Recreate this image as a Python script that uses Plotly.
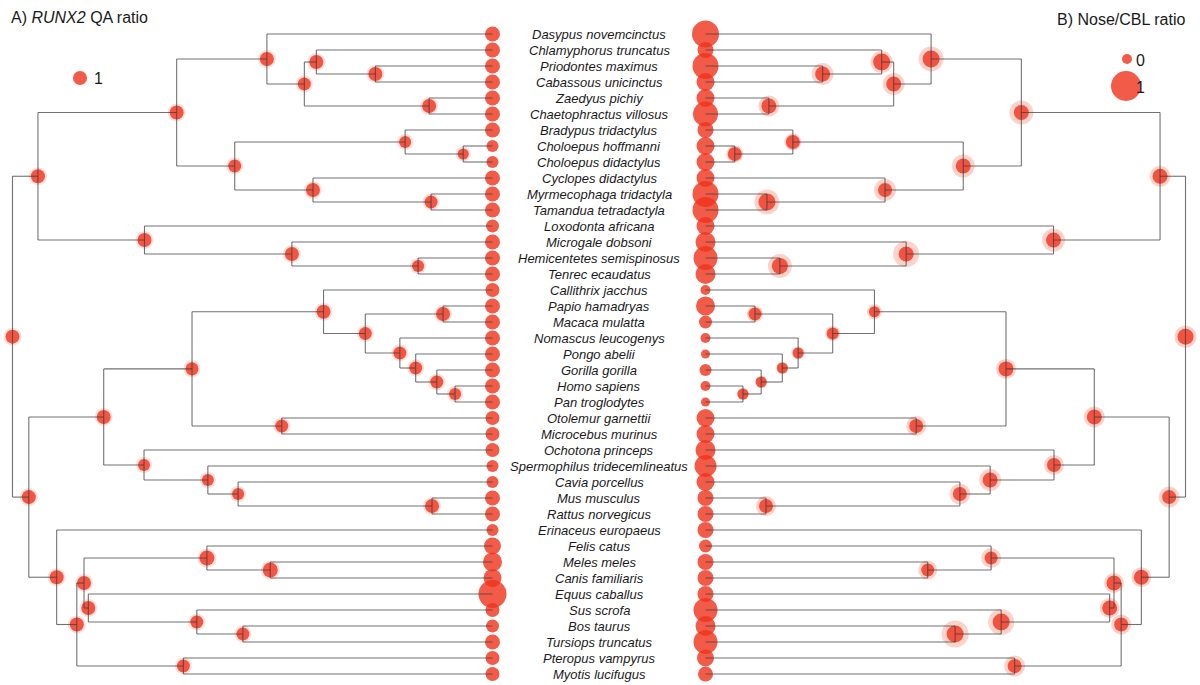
import plotly.graph_objects as go

# ---------------- data ----------------
tips = [
    "Dasypus novemcinctus", "Chlamyphorus truncatus", "Priodontes maximus",
    "Cabassous unicinctus", "Zaedyus pichiy", "Chaetophractus villosus",
    "Bradypus tridactylus", "Choloepus hoffmanni", "Choloepus didactylus",
    "Cyclopes didactylus", "Myrmecophaga tridactyla", "Tamandua tetradactyla",
    "Loxodonta africana", "Microgale dobsoni", "Hemicentetes semispinosus",
    "Tenrec ecaudatus", "Callithrix jacchus", "Papio hamadryas", "Macaca mulatta",
    "Nomascus leucogenys", "Pongo abelii", "Gorilla gorilla", "Homo sapiens",
    "Pan troglodytes", "Otolemur garnettii", "Microcebus murinus",
    "Ochotona princeps", "Spermophilus tridecemlineatus", "Cavia porcellus",
    "Mus musculus", "Rattus norvegicus", "Erinaceus europaeus", "Felis catus",
    "Meles meles", "Canis familiaris", "Equus caballus", "Sus scrofa",
    "Bos taurus", "Tursiops truncatus", "Pteropus vampyrus", "Myotis lucifugus",
]

# A) RUNX2 QA ratio at tips
tip_runx2 = [1.07, 1.07, 1.07, 1.07, 1.07, 1.07, 1.07, 0.86, 0.86, 1.07,
             1.07, 1.07, 0.93, 1.07, 1.07, 1.07, 1.00, 1.07, 1.07, 1.07,
             1.07, 1.07, 1.07, 1.07, 1.00, 1.00, 1.00, 0.86, 0.86, 1.07,
             1.07, 0.86, 1.21, 1.36, 1.29, 2.00, 1.00, 0.93, 1.07, 1.00, 1.00]

# B) Nose/CBL ratio at tips (scaled 0-1)
tip_nose = [0.85, 0.30, 0.80, 0.40, 0.40, 0.75, 0.30, 0.40, 0.40, 0.40,
            0.80, 0.80, 0.40, 0.50, 0.70, 0.50, 0.00, 0.45, 0.15, 0.00,
            -0.05, 0.10, 0.00, -0.05, 0.40, 0.40, 0.50, 0.60, 0.40, 0.30,
            0.30, 0.30, 0.15, 0.30, 0.30, 0.30, 0.70, 0.50, 0.70, 0.35, 0.25]

node_names = [
    "Root", "Atlantogenata", "Xenarthra", "Cingulata", "Chlamyphoridae",
    "Chlamyphorinae+Tolypeutinae", "Tolypeutinae", "Euphractinae", "Pilosa",
    "Folivora", "Choloepus", "Vermilingua", "Myrmecophagidae", "Afrotheria",
    "Tenrecidae", "Tenrecinae", "Boreoeutheria", "Euarchontoglires", "Primates",
    "Anthropoidea", "Catarrhini", "Cercopithecidae", "Hominoidea", "Hominidae",
    "Homininae", "Hominini", "Strepsirrhini", "Glires", "Rodentia",
    "Cavia+Muridae", "Muridae", "Laurasiatheria", "Scrotifera", "Fereuungulata",
    "Carnivora", "Caniformia", "Euungulata", "Cetartiodactyla", "Cetruminantia",
    "Chiroptera",
]
node_children = [
    ("Atlantogenata", "Boreoeutheria"),
    ("Xenarthra", "Afrotheria"),
    ("Cingulata", "Pilosa"),
    ("Dasypus novemcinctus", "Chlamyphoridae"),
    ("Chlamyphorinae+Tolypeutinae", "Euphractinae"),
    ("Chlamyphorus truncatus", "Tolypeutinae"),
    ("Priodontes maximus", "Cabassous unicinctus"),
    ("Zaedyus pichiy", "Chaetophractus villosus"),
    ("Folivora", "Vermilingua"),
    ("Bradypus tridactylus", "Choloepus"),
    ("Choloepus hoffmanni", "Choloepus didactylus"),
    ("Cyclopes didactylus", "Myrmecophagidae"),
    ("Myrmecophaga tridactyla", "Tamandua tetradactyla"),
    ("Loxodonta africana", "Tenrecidae"),
    ("Microgale dobsoni", "Tenrecinae"),
    ("Hemicentetes semispinosus", "Tenrec ecaudatus"),
    ("Euarchontoglires", "Laurasiatheria"),
    ("Primates", "Glires"),
    ("Anthropoidea", "Strepsirrhini"),
    ("Callithrix jacchus", "Catarrhini"),
    ("Cercopithecidae", "Hominoidea"),
    ("Papio hamadryas", "Macaca mulatta"),
    ("Nomascus leucogenys", "Hominidae"),
    ("Pongo abelii", "Homininae"),
    ("Gorilla gorilla", "Hominini"),
    ("Homo sapiens", "Pan troglodytes"),
    ("Otolemur garnettii", "Microcebus murinus"),
    ("Ochotona princeps", "Rodentia"),
    ("Spermophilus tridecemlineatus", "Cavia+Muridae"),
    ("Cavia porcellus", "Muridae"),
    ("Mus musculus", "Rattus norvegicus"),
    ("Erinaceus europaeus", "Scrotifera"),
    ("Fereuungulata", "Chiroptera"),
    ("Carnivora", "Euungulata"),
    ("Felis catus", "Caniformia"),
    ("Meles meles", "Canis familiaris"),
    ("Equus caballus", "Cetartiodactyla"),
    ("Sus scrofa", "Cetruminantia"),
    ("Bos taurus", "Tursiops truncatus"),
    ("Pteropus vampyrus", "Myotis lucifugus"),
]
# relative node ages (root = 100)
node_age = [100.0, 94.7, 65.8, 47.0, 39.2, 36.7, 24.4, 13.2, 53.7, 18.2,
            6.1, 37.4, 12.8, 72.5, 41.8, 15.5, 96.6, 81.0, 62.6, 35.2,
            26.5, 10.3, 19.3, 16.0, 11.6, 7.8, 43.9, 72.6, 59.3, 53.0,
            12.6, 90.8, 86.6, 85.1, 59.5, 46.3, 84.2, 61.6, 52.0, 64.4]
node_runx2 = [1.00, 1.00, 1.00, 1.00, 0.93, 1.00, 1.00, 1.00, 0.93, 0.86,
              0.79, 1.00, 0.93, 1.00, 1.00, 0.86, 1.00, 1.00, 0.93, 1.00,
              0.93, 1.00, 0.93, 0.93, 0.93, 0.86, 0.93, 0.86, 0.86, 0.86,
              1.00, 1.00, 1.00, 1.00, 1.07, 1.07, 1.00, 0.93, 0.93, 0.93]
node_nose = [0.30, 0.25, 0.25, 0.35, 0.25, 0.35, 0.25, 0.25, 0.25, 0.20,
             0.20, 0.20, 0.35, 0.25, 0.25, 0.30, 0.20, 0.25, 0.25, 0.05,
             0.10, 0.15, 0.05, 0.05, 0.05, 0.05, 0.20, 0.20, 0.25, 0.20,
             0.20, 0.25, 0.20, 0.25, 0.15, 0.15, 0.25, 0.35, 0.35, 0.20]
node_nose_upper = [0.60, 0.55, 0.70, 0.75, 0.60, 0.60, 0.60, 0.55, 0.65, 0.35,
                   0.35, 0.60, 0.75, 0.65, 0.80, 0.70, 0.55, 0.55, 0.50, 0.25,
                   0.25, 0.30, 0.15, 0.10, 0.10, 0.10, 0.50, 0.50, 0.60, 0.55,
                   0.50, 0.50, 0.50, 0.50, 0.50, 0.45, 0.50, 0.80, 0.85, 0.55]

legend_A = [1]
legend_B = [0, 1]

# ---------------- layout helpers ----------------
RED = "rgb(240,50,28)"
HALO_L = "rgba(240,80,50,0.25)"
HALO_R = "rgba(240,90,60,0.38)"
LINE = "rgba(60,60,60,0.72)"
FONT = "Liberation Sans, Arial, sans-serif"


def size_A(v):
    return 14 * v


def size_B(v):
    return 10 + 20 * v


ypos = {t: i for i, t in enumerate(tips)}
age = {t: 0.0 for t in tips}
children = dict(zip(node_names, node_children))
for n, a in zip(node_names, node_age):
    age[n] = a


def gety(n):
    if n in ypos:
        return ypos[n]
    c1, c2 = children[n]
    y = (gety(c1) + gety(c2)) / 2
    ypos[n] = y
    return y


for n in node_names:
    gety(n)

segx, segy = [], []
for n in node_names:
    c1, c2 = children[n]
    a = age[n]
    segx += [a, a, None]
    segy += [ypos[c1], ypos[c2], None]
    for c in (c1, c2):
        segx += [a, age[c], None]
        segy += [ypos[c], ypos[c], None]

tip_y = [ypos[t] for t in tips]
tip_x = [0.0] * len(tips)
nd_x = [age[n] for n in node_names]
nd_y = [ypos[n] for n in node_names]

fig = go.Figure()

# ---- left tree (A) ----
fig.add_trace(go.Scatter(x=nd_x, y=nd_y, mode="markers", xaxis="x", yaxis="y",
                         marker=dict(size=[size_A(v) + 4 for v in node_runx2], color=HALO_L,
                                     line=dict(width=0)),
                         hoverinfo="skip", cliponaxis=False))
fig.add_trace(go.Scatter(x=nd_x + tip_x, y=nd_y + tip_y, mode="markers", xaxis="x", yaxis="y",
                         marker=dict(size=[size_A(v) for v in node_runx2 + tip_runx2],
                                     color=RED, opacity=0.8, line=dict(width=0)),
                         text=node_names + tips, hoverinfo="text", cliponaxis=False))
fig.add_trace(go.Scatter(x=segx, y=segy, mode="lines", xaxis="x", yaxis="y",
                         line=dict(color=LINE, width=1.1), hoverinfo="skip"))

# ---- right tree (B) ----
fig.add_trace(go.Scatter(x=nd_x, y=nd_y, mode="markers", xaxis="x2", yaxis="y",
                         marker=dict(size=[size_B(v) for v in node_nose_upper], color=HALO_R,
                                     line=dict(width=0)),
                         hoverinfo="skip", cliponaxis=False))
fig.add_trace(go.Scatter(x=nd_x + tip_x, y=nd_y + tip_y, mode="markers", xaxis="x2", yaxis="y",
                         marker=dict(size=[size_B(v) for v in node_nose + tip_nose],
                                     color=RED, opacity=0.8, line=dict(width=0)),
                         text=node_names + tips, hoverinfo="text", cliponaxis=False))
fig.add_trace(go.Scatter(x=segx, y=segy, mode="lines", xaxis="x2", yaxis="y",
                         line=dict(color=LINE, width=1.1), hoverinfo="skip"))

W, H = 1200, 685
annotations = []
for t, y in zip(tips, tip_y):
    annotations.append(dict(text="<i>%s</i>" % t, x=599 / W, xref="paper", y=y, yref="y",
                            xanchor="center", yanchor="middle", showarrow=False,
                            font=dict(family=FONT, size=13, color="#1a1a1a")))

annotations.append(dict(text="A) <i>RUNX2</i> QA ratio", x=9 / W, y=1 - 18 / H, xref="paper",
                        yref="paper", xanchor="left", yanchor="middle", showarrow=False,
                        font=dict(family=FONT, size=16, color="#1a1a1a")))
annotations.append(dict(text="B) Nose/CBL ratio", x=1187 / W, y=1 - 20 / H, xref="paper",
                        yref="paper", xanchor="right", yanchor="middle", showarrow=False,
                        font=dict(family=FONT, size=16, color="#1a1a1a")))

shapes = []
# legend A
for v, (cx, cy, tx) in zip(legend_A, [(80, 78, 92)]):
    r = size_A(v) / 2
    shapes.append(dict(type="circle", xref="paper", yref="paper", xsizemode="pixel",
                       ysizemode="pixel", xanchor=cx / W, yanchor=1 - cy / H,
                       x0=-r, x1=r, y0=-r, y1=r, fillcolor=RED, opacity=0.8,
                       line=dict(width=0)))
    annotations.append(dict(text=str(v), x=tx / W, y=1 - cy / H, xref="paper", yref="paper",
                            xanchor="left", yanchor="middle", showarrow=False,
                            font=dict(family=FONT, size=16, color="#1a1a1a")))
# legend B
for v, (cx, cy, tx) in zip(legend_B, [(1127, 59, 1134), (1126, 86, 1134)]):
    r = size_B(v) / 2
    shapes.append(dict(type="circle", xref="paper", yref="paper", xsizemode="pixel",
                       ysizemode="pixel", xanchor=cx / W, yanchor=1 - cy / H,
                       x0=-r, x1=r, y0=-r, y1=r, fillcolor=RED, opacity=0.8,
                       line=dict(width=0), layer="below"))
    annotations.append(dict(text=str(v), x=tx / W, y=1 - (cy + 1) / H, xref="paper",
                            yref="paper", xanchor="left", yanchor="middle", showarrow=False,
                            font=dict(family=FONT, size=16, color="#1a1a1a")))

# axis ranges in age units: tips at px 492.5 (left) / 705.5 (right), root 480 px away
pxA = 4.8
pxB = 4.8
fig.update_layout(
    width=W, height=H, margin=dict(l=0, r=0, t=0, b=0),
    paper_bgcolor="white", plot_bgcolor="white", showlegend=False,
    xaxis=dict(domain=[0, 0.5], range=[492.5 / pxA, (492.5 - 600) / pxA],
               visible=False, fixedrange=True),
    xaxis2=dict(domain=[0.5, 1], range=[(600 - 705.5) / pxB, (1200 - 705.5) / pxB],
                visible=False, fixedrange=True, anchor="y"),
    yaxis=dict(range=[(H - 34) / 16, -34 / 16], visible=False, fixedrange=True),
    annotations=annotations, shapes=shapes,
)

fig.write_html("out.html", config={"displayModeBar": False}, post_script=(
    "document.body.style.margin='0';document.body.style.padding='0';"
    "document.body.style.overflow='hidden';"))
